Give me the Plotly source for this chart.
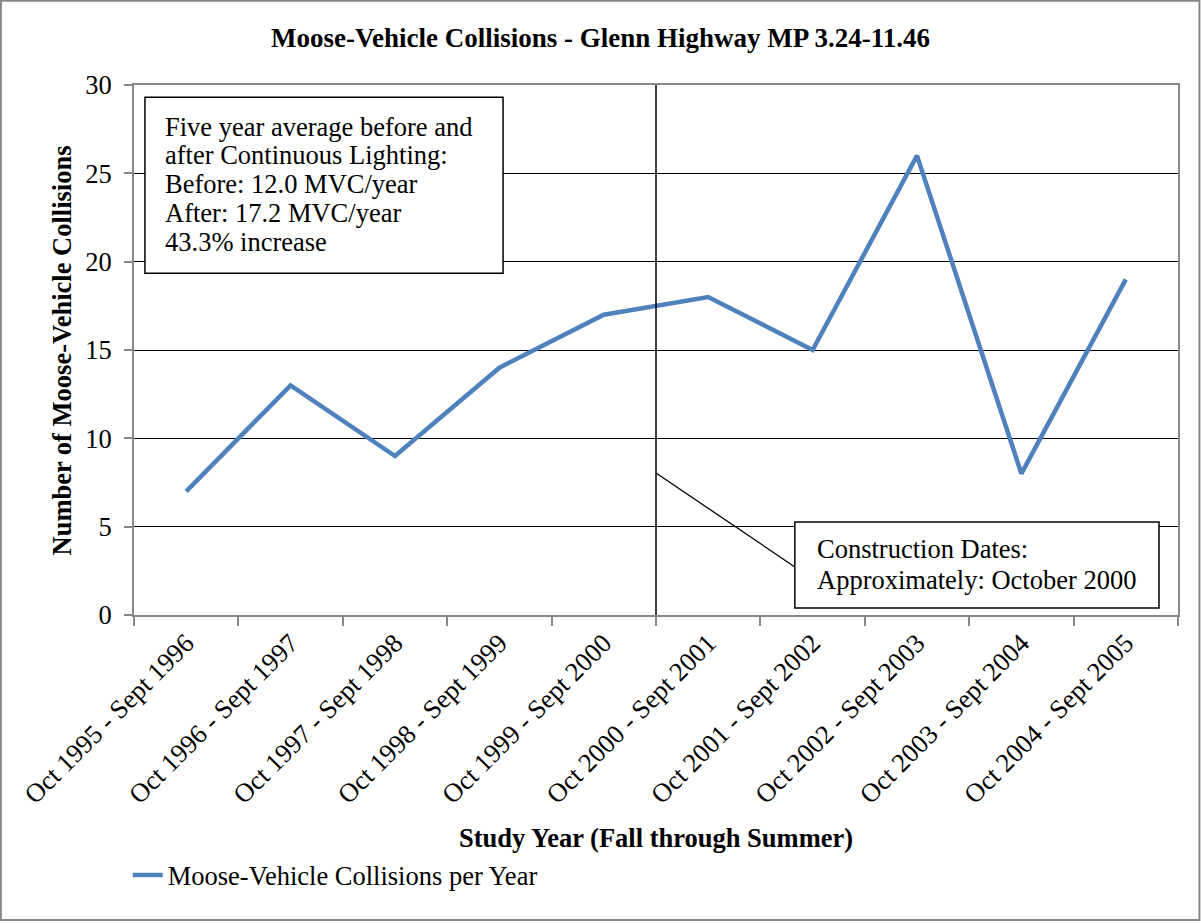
import plotly.graph_objects as go

study_years = [
    'Oct 1995 - Sept 1996', 'Oct 1996 - Sept 1997', 'Oct 1997 - Sept 1998',
    'Oct 1998 - Sept 1999', 'Oct 1999 - Sept 2000', 'Oct 2000 - Sept 2001',
    'Oct 2001 - Sept 2002', 'Oct 2002 - Sept 2003', 'Oct 2003 - Sept 2004',
    'Oct 2004 - Sept 2005',
]
collisions = [7, 13, 9, 14, 17, 18, 15, 26, 8, 19]
y_ticks = [0, 5, 10, 15, 20, 25, 30]

avg_note = ['Five year average before and', 'after Continuous Lighting:',
            'Before: 12.0 MVC/year', 'After: 17.2 MVC/year', '43.3% increase']
construction_note = ['Construction Dates:', 'Approximately: October 2000']

serif = 'Liberation Serif'
txt_size = 26.5

fig = go.Figure()
fig.add_trace(go.Scatter(
    x=list(range(len(study_years))),
    y=collisions,
    mode='lines',
    name='Moose-Vehicle Collisions per Year',
    line=dict(width=4.5, color='#4f81bd')
))

# construction marker and callout
fig.add_shape(type='line', x0=4.5, x1=4.5, y0=0, y1=30,
              line=dict(color='black', width=1.5))
fig.add_shape(type='line', x0=4.5, x1=5.83, y0=8.04, y1=2.72,
              line=dict(color='black', width=1.3))

# text boxes
fig.add_shape(type='rect', x0=-0.395, x1=3.035, y0=19.35, y1=29.31,
              fillcolor='white', line=dict(color='black', width=1.5))
fig.add_shape(type='rect', x0=5.83, x1=9.318, y0=0.40, y1=5.26,
              fillcolor='white', line=dict(color='black', width=1.5))

# one annotation per line to get the tight Excel line spacing
for i, line in enumerate(avg_note):
    fig.add_annotation(
        x=-0.222, y=27.65 - i * 1.64, xanchor='left', yanchor='middle',
        showarrow=False, text=line,
        font=dict(family=serif, size=txt_size, color='black')
    )
for i, line in enumerate(construction_note):
    fig.add_annotation(
        x=6.02, y=3.74 - i * 1.75, xanchor='left', yanchor='middle',
        showarrow=False, text=line,
        font=dict(family=serif, size=txt_size, color='black')
    )

# axis titles
fig.add_annotation(
    xref='paper', yref='paper', x=0.5, y=-0.421, yanchor='middle', showarrow=False,
    text='<b>Study Year (Fall through Summer)</b>',
    font=dict(family=serif, size=26.5, color='black')
)
fig.add_annotation(
    xref='paper', yref='paper', x=-0.0685, y=0.5, xanchor='center', showarrow=False,
    textangle=-90,
    text='<b>Number of Moose-Vehicle Collisions</b>',
    font=dict(family=serif, size=26.5, color='black')
)

# outer border
fig.add_shape(type='rect', xref='paper', yref='paper',
              x0=-0.1275, x1=1.0205, y0=-0.5755, y1=1.159,
              line=dict(color='#888888', width=2))

fig.update_xaxes(
    range=[-0.5, 9.5],
    tickmode='array',
    tickvals=list(range(len(study_years))),
    ticktext=study_years,
    tickangle=-45,
    ticks='',
    showgrid=False,
    showline=True, linecolor='#888888', linewidth=2, mirror=True,
    tickfont=dict(family=serif, size=txt_size, color='black'),
    zeroline=False
)
# category divider ticks (Excel places them between categories)
fig.update_xaxes(
    minor=dict(tickmode='array', tickvals=[i - 0.5 for i in range(len(study_years) + 1)],
               ticks='outside', ticklen=9, tickcolor='#888888', tickwidth=2)
)
fig.update_yaxes(
    range=[0, 30],
    tickvals=y_ticks,
    ticks='outside', ticklen=8, tickcolor='#888888', tickwidth=2,
    ticklabelstandoff=7,
    showgrid=True, gridcolor='black', gridwidth=1,
    showline=True, linecolor='#888888', linewidth=2, mirror=True,
    tickfont=dict(family=serif, size=txt_size, color='black'),
    zeroline=False
)

fig.update_layout(
    width=1201, height=923,
    margin=dict(l=134, r=23, t=85, b=308),
    plot_bgcolor='white',
    paper_bgcolor='white',
    title=dict(text='<b>Moose-Vehicle Collisions - Glenn Highway MP 3.24-11.46</b>',
               x=0.5, xanchor='center', y=1 - 38 / 923, yanchor='middle',
               font=dict(family=serif, size=27, color='black')),
    showlegend=True,
    legend=dict(orientation='h', x=-0.006, xanchor='left', y=-0.491, yanchor='middle',
                font=dict(family=serif, size=txt_size, color='black'),
                bgcolor='rgba(0,0,0,0)')
)

fig.write_html('out.html', config={'displayModeBar': False},
               post_script="document.body.style.margin='0';")
